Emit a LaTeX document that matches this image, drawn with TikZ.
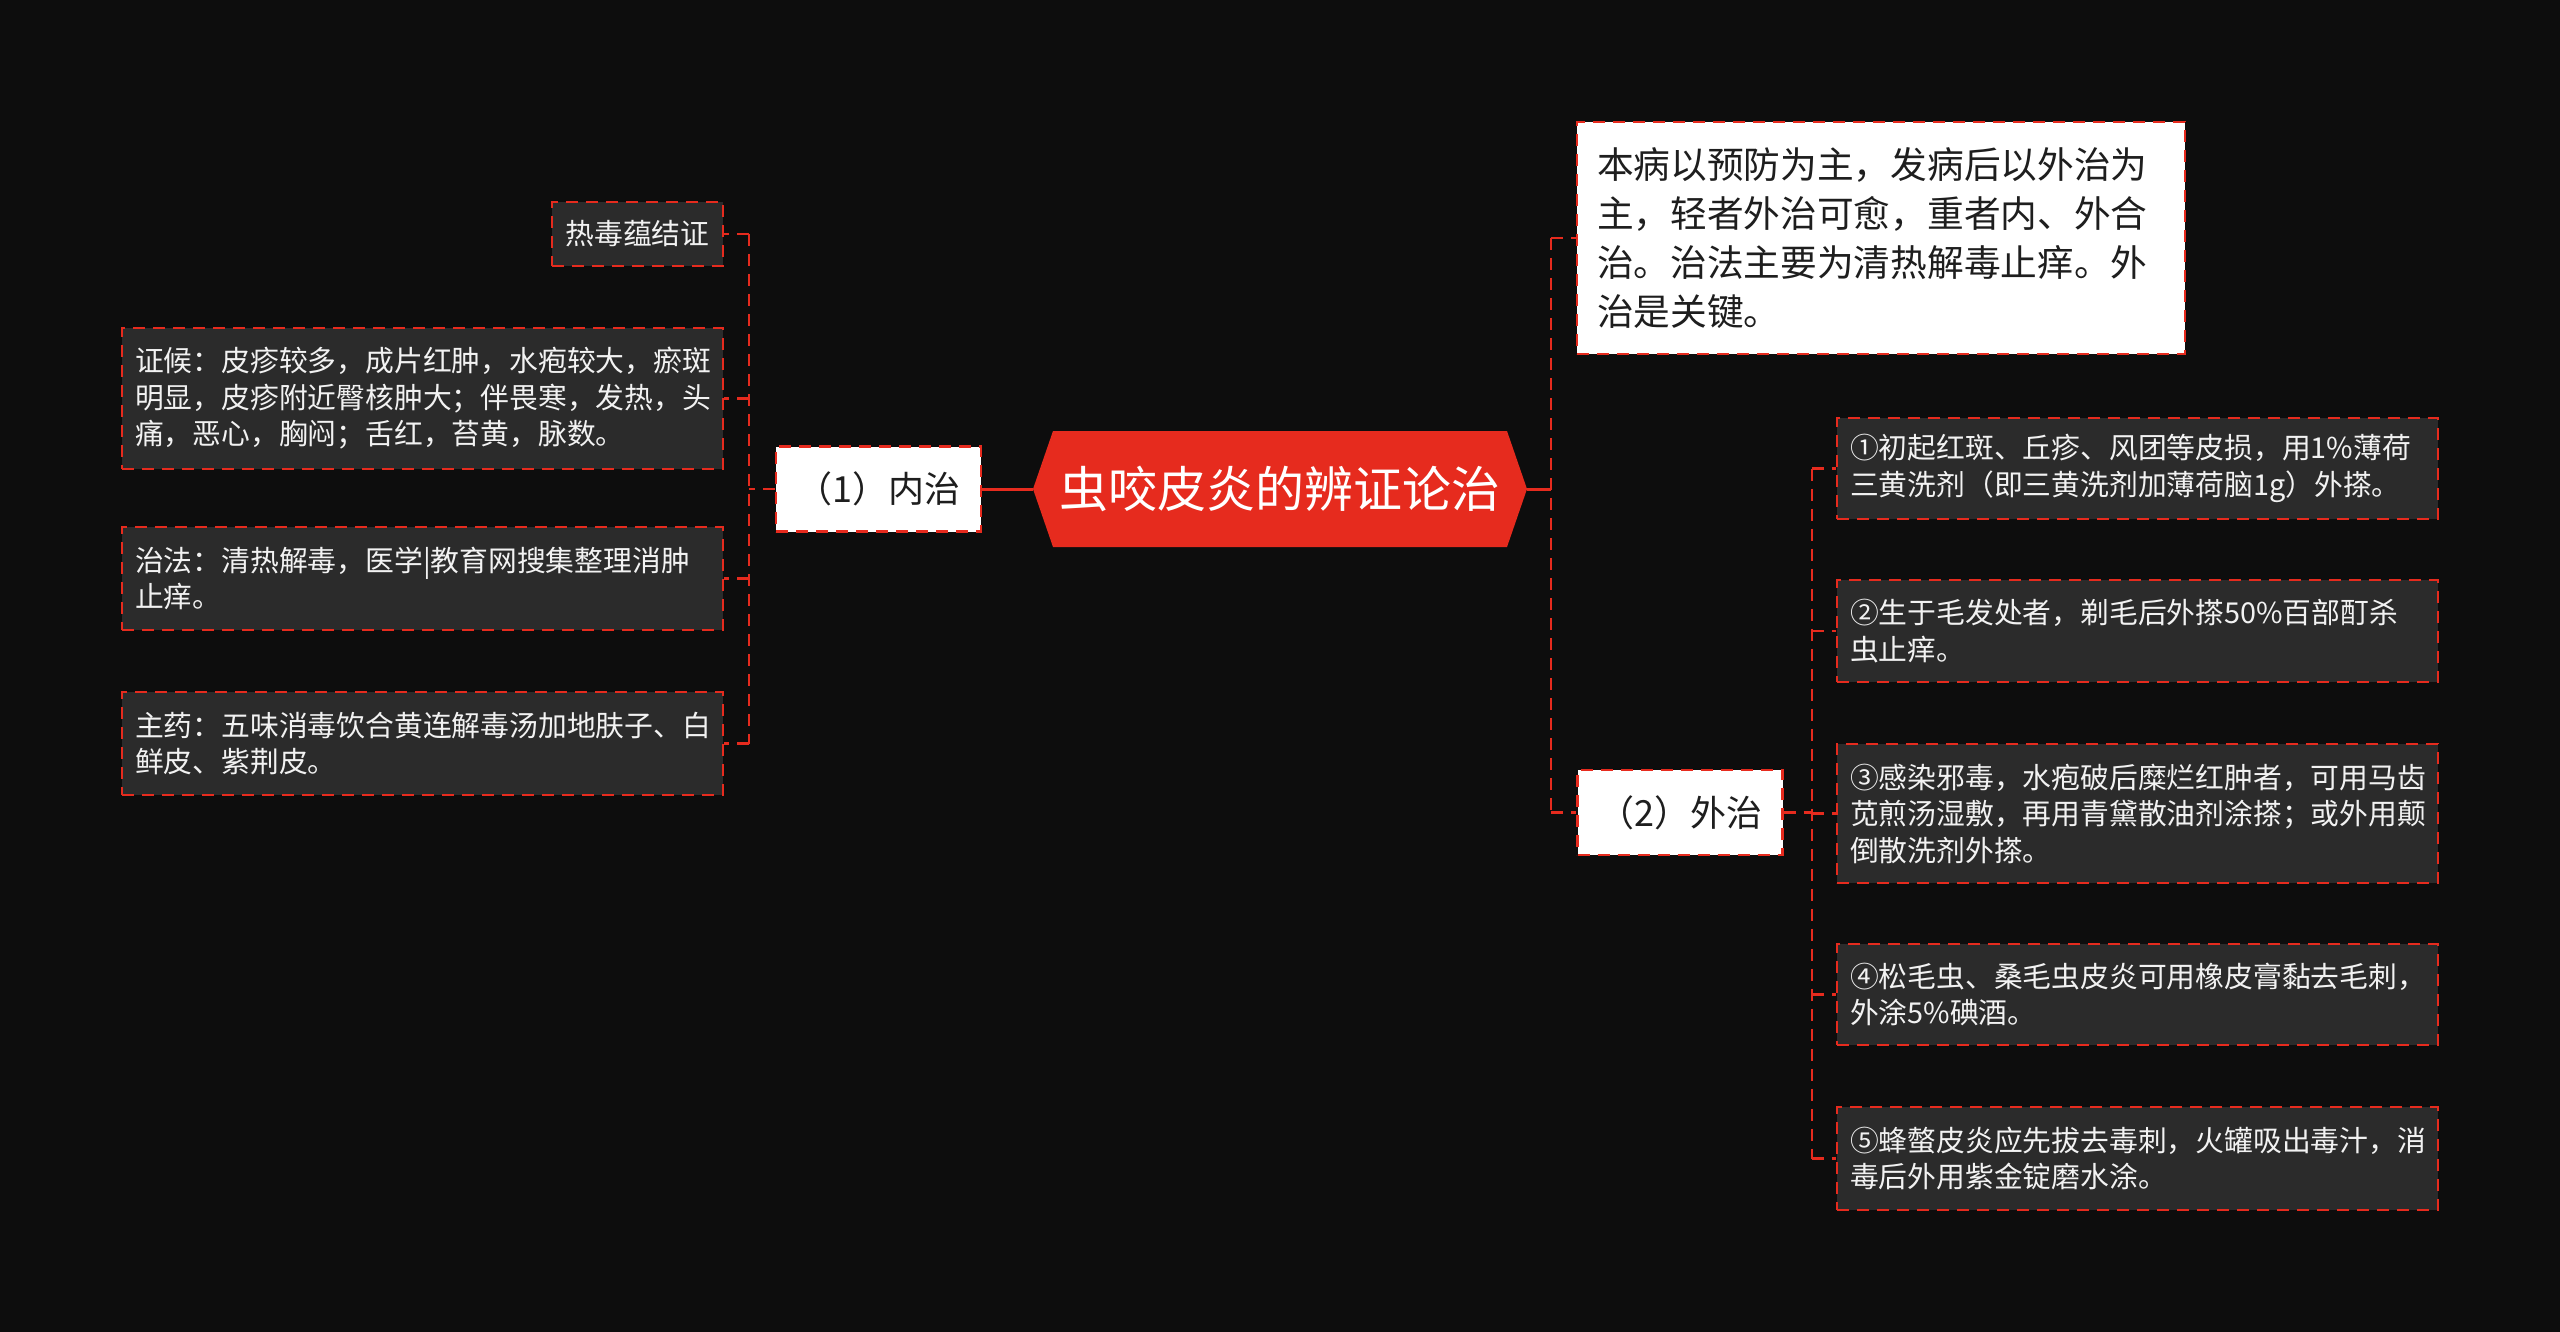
\documentclass[tikz,border=0pt]{standalone}
\usepackage{fontspec}
\setmainfont{Noto Sans CJK SC}
\definecolor{bg}{HTML}{0D0D0D}
\definecolor{tred}{HTML}{E62B1E}
\definecolor{boxfill}{HTML}{2B2B2B}
\definecolor{lighttext}{HTML}{F2F2F2}
\definecolor{darktext}{HTML}{1E1E1E}
\tikzset{
  conn/.style={draw=tred, line width=2.6pt, dash pattern=on 12pt off 8pt},
  solidconn/.style={draw=tred, line width=3pt},
  dashedborder/.style={draw=tred, line width=2.4pt, dash pattern=on 12pt off 8pt},
  darkbox/.style={dashedborder, fill=boxfill, text=lighttext,
    font=\fontsize{28.8}{36.5}\selectfont, align=left,
    inner xsep=13pt, inner ysep=0pt, text width=575pt, anchor=center},
  smalldark/.style={dashedborder, fill=boxfill, text=lighttext,
    font=\fontsize{28.8}{36.5}\selectfont, inner sep=0pt,
    minimum width=171pt, minimum height=64pt, anchor=center},
  notebox/.style={dashedborder, fill=white, text=darktext,
    font=\fontsize{36.7}{49}\selectfont, align=left,
    inner xsep=20pt, inner ysep=0pt, text width=568pt,
    minimum height=232pt, anchor=center},
  branchbox/.style={dashedborder, fill=white, text=darktext,
    font=\fontsize{36}{40}\selectfont, inner sep=0pt,
    minimum width=205pt, minimum height=85pt, anchor=center},
  rootbox/.style={text=white, font=\fontsize{49}{56}\selectfont,
    inner sep=0pt, minimum width=494pt, minimum height=116pt, anchor=center}
}
\begin{document}
\begin{tikzpicture}[x=1pt,y=-1pt]
\useasboundingbox[fill=bg] (0,0) rectangle (2560,1332);

% central hexagon
\fill[tred] (1033,489) -- (1053,431) -- (1507,431) -- (1527,489) -- (1507,547) -- (1053,547) -- cycle;
\node[rootbox] (root) at (1280,489) {虫咬皮炎的辨证论治};

% level 1
\node[branchbox] (nei) at (878.5,489) {（1）内治};
\node[branchbox] (wai) at (1680,812.5) {（2）外治};
\node[notebox] (note) at (1881,238) {本病以预防为主，发病后以外治为\\主，轻者外治可愈，重者内、外合\\治。治法主要为清热解毒止痒。外\\治是关键。};

% left leaves
\node[smalldark] (la) at (637.5,234) {热毒蕴结证};
\node[darkbox, minimum height=141pt] (lb) at (422.5,398.5) {证候：皮疹较多，成片红肿，水疱较大，瘀斑\\明显，皮疹附近臀核肿大；伴畏寒，发热，头\\痛，恶心，胸闷；舌红，苔黄，脉数。};
\node[darkbox, minimum height=103pt] (lc) at (422.5,578.5) {治法：清热解毒，医学|教育网搜集整理消肿\\止痒。};
\node[darkbox, minimum height=103pt] (ld) at (422.5,743.5) {主药：五味消毒饮合黄连解毒汤加地肤子、白\\鲜皮、紫荆皮。};

% right leaves
\node[darkbox, minimum height=101pt] (r1) at (2137.5,468.5) {①初起红斑、丘疹、风团等皮损，用1\%薄荷\\三黄洗剂（即三黄洗剂加薄荷脑1g）外搽。};
\node[darkbox, minimum height=102pt] (r2) at (2137.5,631) {②生于毛发处者，剃毛后外搽50\%百部酊杀\\虫止痒。};
\node[darkbox, minimum height=139pt] (r3) at (2137.5,813.5) {③感染邪毒，水疱破后糜烂红肿者，可用马齿\\苋煎汤湿敷，再用青黛散油剂涂搽；或外用颠\\倒散洗剂外搽。};
\node[darkbox, minimum height=101pt] (r4) at (2137.5,994.5) {④松毛虫、桑毛虫皮炎可用橡皮膏黏去毛刺，\\外涂5\%碘酒。};
\node[darkbox, minimum height=103pt] (r5) at (2137.5,1158.5) {⑤蜂螫皮炎应先拔去毒刺，火罐吸出毒汁，消\\毒后外用紫金锭磨水涂。};

% connectors: root to level 1
\coordinate (rt) at (1551,489);
\draw[solidconn] (root.west) -- (nei.east);
\draw[solidconn] (root.east) -- (rt);
\draw[conn] (rt |- note.west) -- (rt |- wai.west);
\draw[conn] (rt |- note.west) -- (note.west);
\draw[conn] (rt |- wai.west) -- (wai.west);

% left trunk
\coordinate (lt) at (749,489);
\draw[conn] (nei.west) -- (lt);
\draw[conn] (lt |- la.east) -- (lt |- ld.east);
\foreach \n in {la,lb,lc,ld} {
  \draw[conn] (lt |- \n.east) -- (\n.east);
}

% right trunk
\coordinate (wt) at (1812,812.5);
\draw[conn] (wai.east) -- (wt);
\draw[conn] (wt |- r1.west) -- (wt |- r5.west);
\foreach \n in {r1,r2,r3,r4,r5} {
  \draw[conn] (wt |- \n.west) -- (\n.west);
}
\end{tikzpicture}
\end{document}
